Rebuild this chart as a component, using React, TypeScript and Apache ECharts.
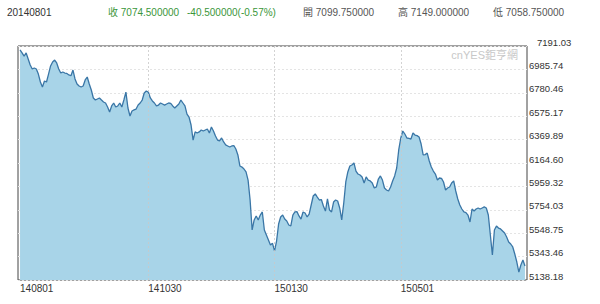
import React, { useEffect, useRef } from "react";
import * as echarts from "echarts";

const headerDate = "20140801";
const headerClose = "收 7074.500000";
const headerChange = "-40.500000(-0.57%)";
const headerOpen = "開 7099.750000";
const headerHigh = "高 7149.000000";
const headerLow = "低 7058.750000";
const watermark = "cnYES鉅亨網";

const xTickIndex = [0, 63, 125, 187];
const xTickLabels = ["140801", "141030", "150130", "150501"];

const yMin = 5138.18;
const yMax = 7191.03;
const yStep = 205.285;
const yTickLabels = [
  "5138.18", "5343.46", "5548.75", "5754.03", "5959.32", "6164.60",
  "6369.89", "6575.17", "6780.46", "6985.74", "7191.03",
];

const closes = [
  7156, 7130, 7103, 7130, 7077, 7024, 6989, 6998, 6989, 6945,
  6875, 6831, 6884, 6875, 6945, 7016, 7051, 7068, 7042, 6989,
  6954, 6963, 6954, 6950, 6937, 6930, 6980, 6902, 6858, 6840,
  6831, 6840, 6893, 6919, 6858, 6805, 6735, 6717, 6726, 6735,
  6717, 6700, 6691, 6656, 6612, 6665, 6691, 6656, 6665, 6691,
  6656, 6717, 6787, 6647, 6577, 6621, 6630, 6638, 6673, 6691,
  6717, 6779, 6796, 6787, 6735, 6709, 6691, 6665, 6673, 6691,
  6682, 6673, 6682, 6691, 6688, 6665, 6647, 6665, 6682, 6717,
  6691, 6665, 6594, 6568, 6498, 6366, 6437, 6428, 6437, 6454,
  6445, 6454, 6463, 6428, 6480, 6445, 6401, 6366, 6358, 6384,
  6349, 6323, 6314, 6305, 6314, 6318, 6287, 6235, 6138, 6129,
  6112, 6086, 6015, 5840, 5577, 5665, 5700, 5665, 5708, 5735,
  5577, 5533, 5489, 5445, 5460, 5393, 5480, 5629, 5691, 5708,
  5673, 5656, 5621, 5612, 5708, 5735, 5738, 5700, 5673, 5735,
  5726, 5691, 5717, 5796, 5875, 5893, 5866, 5840, 5844, 5787,
  5743, 5849, 5752, 5735, 5822, 5840, 5831, 5770, 5665, 5814,
  5998, 6086, 6138, 6147, 6165, 6094, 6068, 6059, 6042, 5989,
  6042, 6015, 6007, 5989, 5945, 5954, 6024, 6051, 6015, 5945,
  5928, 5919, 5954, 6007, 6051, 6121, 6279, 6384, 6445, 6419,
  6384, 6380, 6375, 6428, 6410, 6405, 6393, 6331, 6235, 6238,
  6252, 6182, 6129, 6094, 6068, 6015, 6033, 6030, 5998, 5928,
  5945, 5954, 5989, 6007, 5919, 5849, 5796, 5761, 5735, 5730,
  5708, 5647, 5761, 5743, 5761, 5770, 5761, 5770, 5779, 5770,
  5708, 5533, 5357, 5577, 5612, 5594, 5586, 5568, 5550, 5515,
  5472, 5454, 5428, 5366, 5296, 5208, 5270, 5314, 5261,
];

const FONT = "'Liberation Sans', 'Noto Sans CJK TC', sans-serif";

export default function App() {
  const ref = useRef<HTMLDivElement>(null);
  useEffect(() => {
    if (!ref.current) return;
    const chart = echarts.init(ref.current, undefined, { renderer: "svg" });
    const headerY = 12;
    const headerItems = [
      { x: 7, text: headerDate, fill: "#333" },
      { x: 108, text: headerClose, fill: "#3a963a" },
      { x: 187, text: headerChange, fill: "#3a963a" },
      { x: 303, text: headerOpen, fill: "#555" },
      { x: 398, text: headerHigh, fill: "#555" },
      { x: 493, text: headerLow, fill: "#555" },
    ];
    chart.setOption({
      animation: false,
      grid: {
        left: 18,
        right: 73,
        top: 46,
        bottom: 24,
        show: true,
        borderColor: "#444",
        borderWidth: 1,
        backgroundColor: "transparent",
      },
      xAxis: {
        type: "value",
        min: -1,
        max: 249,
        axisLine: { show: false },
        axisTick: { show: false },
        splitLine: { show: false },
        axisLabel: {
          customValues: xTickIndex,
          formatter: (v: number) => {
            const k = xTickIndex.indexOf(Math.round(v));
            return k >= 0 ? xTickLabels[k] : "";
          },
          align: "left",
          margin: 3,
          color: "#333",
          fontSize: 10,
          fontFamily: FONT,
        },
      },
      yAxis: {
        type: "value",
        position: "right",
        min: yMin,
        max: yMax,
        interval: yStep,
        axisLine: { show: false },
        axisTick: { show: false },
        splitLine: {
          show: true,
          lineStyle: { color: "#e4e4e4", type: [2, 2], width: 1 },
        },
        axisLabel: {
          margin: 2,
          color: "#333",
          fontSize: 9.5,
          fontFamily: FONT,
          verticalAlign: "middle",
          padding: [0, 0, 8, 0],
          formatter: (_v: number, idx: number) =>
            idx === yTickLabels.length - 1
              ? `{t|${yTickLabels[idx]}}`
              : yTickLabels[idx] ?? "",
          rich: {
            t: {
              fontSize: 9.5,
              fontFamily: FONT,
              color: "#333",
              padding: [0, 0, 0, 8],
            },
          },
        },
      },
      graphic: [
        ...headerItems.map((h) => ({
          type: "text",
          x: h.x,
          y: headerY,
          style: {
            text: h.text,
            fill: h.fill,
            font: `10px ${FONT}`,
            verticalAlign: "middle",
          },
        })),
        {
          type: "text",
          x: 518,
          y: 55,
          z: 100,
          style: {
            text: watermark,
            fill: "#c8c8c8",
            font: `11px ${FONT}`,
            align: "right",
            verticalAlign: "middle",
          },
        },
      ],
      series: [
        {
          type: "line",
          data: closes.map((v, i) => [i, v]),
          showSymbol: false,
          symbol: "none",
          lineStyle: { color: "#3a76a6", width: 1.3 },
          areaStyle: { color: "#a8d4e8", opacity: 1 },
          markLine: {
            silent: true,
            symbol: "none",
            label: { show: false },
            lineStyle: { color: "#c8c8c8", type: [2, 2], width: 1, opacity: 0.8 },
            data: xTickIndex.slice(1).map((i) => ({ xAxis: i })),
          },
        },
      ],
    });
    return () => chart.dispose();
  }, []);
  return (
    <div
      ref={ref}
      style={{ position: "absolute", left: 0, top: 0, width: 600, height: 304 }}
    />
  );
}
